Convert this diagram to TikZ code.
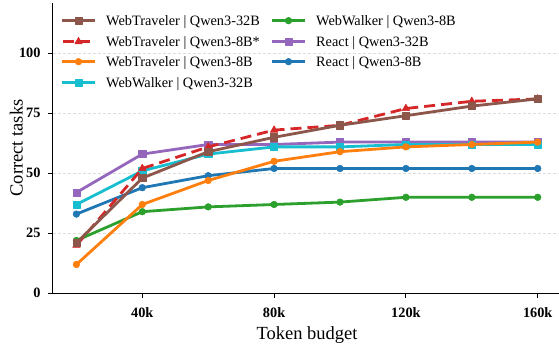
\documentclass[tikz,border=0pt]{standalone}
\usepackage{fontspec}
\setmainfont{Liberation Serif}
\usetikzlibrary{plotmarks}
\definecolor{cbrown}{HTML}{8C564B}
\definecolor{cred}{HTML}{D62728}
\definecolor{corange}{HTML}{FF7F0E}
\definecolor{ccyan}{HTML}{17BECF}
\definecolor{cgreen}{HTML}{2CA02C}
\definecolor{cpurple}{HTML}{9467BD}
\definecolor{cblue}{HTML}{1F77B4}
\definecolor{cgrid}{HTML}{DDDDDD}
\tikzset{
  series/.style={line width=2.8pt, line join=round, line cap=round, color=#1, mark options={solid, line width=0.6pt, fill=#1, draw=#1}},
  legline/.style={line width=2.8pt, line cap=butt, color=#1},
  sqmark/.style={mark=square*, mark size=3.6pt},
  cimark/.style={mark=*, mark size=3.3pt},
  trmark/.style={mark=triangle*, mark size=4.3pt},
  dashser/.style={dash pattern=on 11pt off 6pt, line cap=butt},
  gridline/.style={cgrid, line width=0.8pt, dash pattern=on 3pt off 2pt},
  axisline/.style={black, line width=1.1pt},
  ticklabel/.style={font=\fontsize{14.3}{16}\selectfont\bfseries, inner sep=0pt},
  axlabel/.style={font=\fontsize{18.5}{21}\selectfont, inner sep=0pt},
  legtext/.style={font=\fontsize{14.3}{16}\selectfont, inner sep=0pt, anchor=base west},
}
\begin{document}
\begin{tikzpicture}[x=1pt,y=1pt]
\useasboundingbox (0,0) rectangle (559,347);
\begin{scope}[shift={(10.5,53.7)}, x=3.295pt, y=2.4pt]
  % grid
  \foreach \v in {25,50,75,100} \draw[gridline] (12.8,\v) -- (166.5,\v);
  % axes
  \coordinate (ytop) at (12.8,120.8);
  \coordinate (orig) at (12.8,0);
  \coordinate (xend) at (166.5,0);
  \draw[axisline, line cap=rect] (ytop) -- (orig) -- (xend);
  \foreach \v in {0,25,50,75,100} {
    \draw[axisline] (12.8,\v) -- ++(-5pt,0);
    \node[ticklabel, anchor=east] (yl\v) at ([xshift=-12pt]12.8,\v) {\v};
  }
  \foreach \k in {40,80,120,160} {
    \draw[axisline] (\k,0) -- ++(0,-5pt);
    \node[ticklabel, anchor=north] (xl\k) at ([yshift=-14.4pt]\k,0) {\k k};
  }
  % series
  \draw[series=cgreen, cimark] plot coordinates {(20,22)(40,34)(60,36)(80,37)(100,38)(120,40)(140,40)(160,40)};
  \draw[series=cblue, cimark] plot coordinates {(20,33)(40,44)(60,49)(80,52)(100,52)(120,52)(140,52)(160,52)};
  \draw[series=cpurple, sqmark] plot coordinates {(20,42)(40,58)(60,62)(80,62)(100,63)(120,63)(140,63)(160,63)};
  \draw[series=ccyan, sqmark] plot coordinates {(20,37)(40,51)(60,58)(80,61)(100,61)(120,62)(140,62)(160,62)};
  \draw[series=corange, cimark] plot coordinates {(20,12)(40,37)(60,47)(80,55)(100,59)(120,61)(140,62)(160,63)};
  \draw[series=cred, dashser, trmark] plot coordinates {(20,20)(40,52)(60,61)(80,68)(100,70)(120,77)(140,80)(160,81)};
  \draw[series=cbrown, sqmark] plot coordinates {(20,21)(40,48)(60,59)(80,65)(100,70)(120,74)(140,78)(160,81)};
\end{scope}
% axis labels
\node[axlabel, anchor=base] (xlab) at (307,7.7) {Token budget};
\node[axlabel, anchor=base, rotate=90] (ylab) at (22.5,199) {Correct tasks};
% legend column 1
\coordinate (l1a) at (62,326.3); \coordinate (l1b) at (95,326.3);
\draw[legline=cbrown] (l1a) -- (l1b);
\draw[series=cbrown, sqmark] plot coordinates {(78.5,326.3)};
\node[legtext] (t1) at (106,321) {WebTraveler | Qwen3-32B};
\coordinate (l2a) at (62,305.3); \coordinate (l2b) at (95,305.3);
\draw[legline=cred, dash pattern=on 11pt off 5pt, dash phase=-1pt] (l2a) -- (l2b);
\draw[series=cred, trmark] plot coordinates {(78.5,305.3)};
\node[legtext] (t2) at (106,300) {WebTraveler | Qwen3-8B*};
\coordinate (l3a) at (62,285.3); \coordinate (l3b) at (95,285.3);
\draw[legline=corange] (l3a) -- (l3b);
\draw[series=corange, cimark] plot coordinates {(78.5,285.3)};
\node[legtext] (t3) at (106,280) {WebTraveler | Qwen3-8B};
\coordinate (l4a) at (62,264.3); \coordinate (l4b) at (95,264.3);
\draw[legline=ccyan] (l4a) -- (l4b);
\draw[series=ccyan, sqmark] plot coordinates {(78.5,264.3)};
\node[legtext] (t4) at (106,259) {WebWalker | Qwen3-32B};
% legend column 2
\coordinate (l5a) at (272,326.3); \coordinate (l5b) at (305,326.3);
\draw[legline=cgreen] (l5a) -- (l5b);
\draw[series=cgreen, cimark] plot coordinates {(288.5,326.3)};
\node[legtext] (t5) at (316,321) {WebWalker | Qwen3-8B};
\coordinate (l6a) at (272,305.3); \coordinate (l6b) at (305,305.3);
\draw[legline=cpurple] (l6a) -- (l6b);
\draw[series=cpurple, sqmark] plot coordinates {(288.5,305.3)};
\node[legtext] (t6) at (316,300) {React | Qwen3-32B};
\coordinate (l7a) at (272,285.3); \coordinate (l7b) at (305,285.3);
\draw[legline=cblue] (l7a) -- (l7b);
\draw[series=cblue, cimark] plot coordinates {(288.5,285.3)};
\node[legtext] (t7) at (316,280) {React | Qwen3-8B};
\end{tikzpicture}
\end{document}
